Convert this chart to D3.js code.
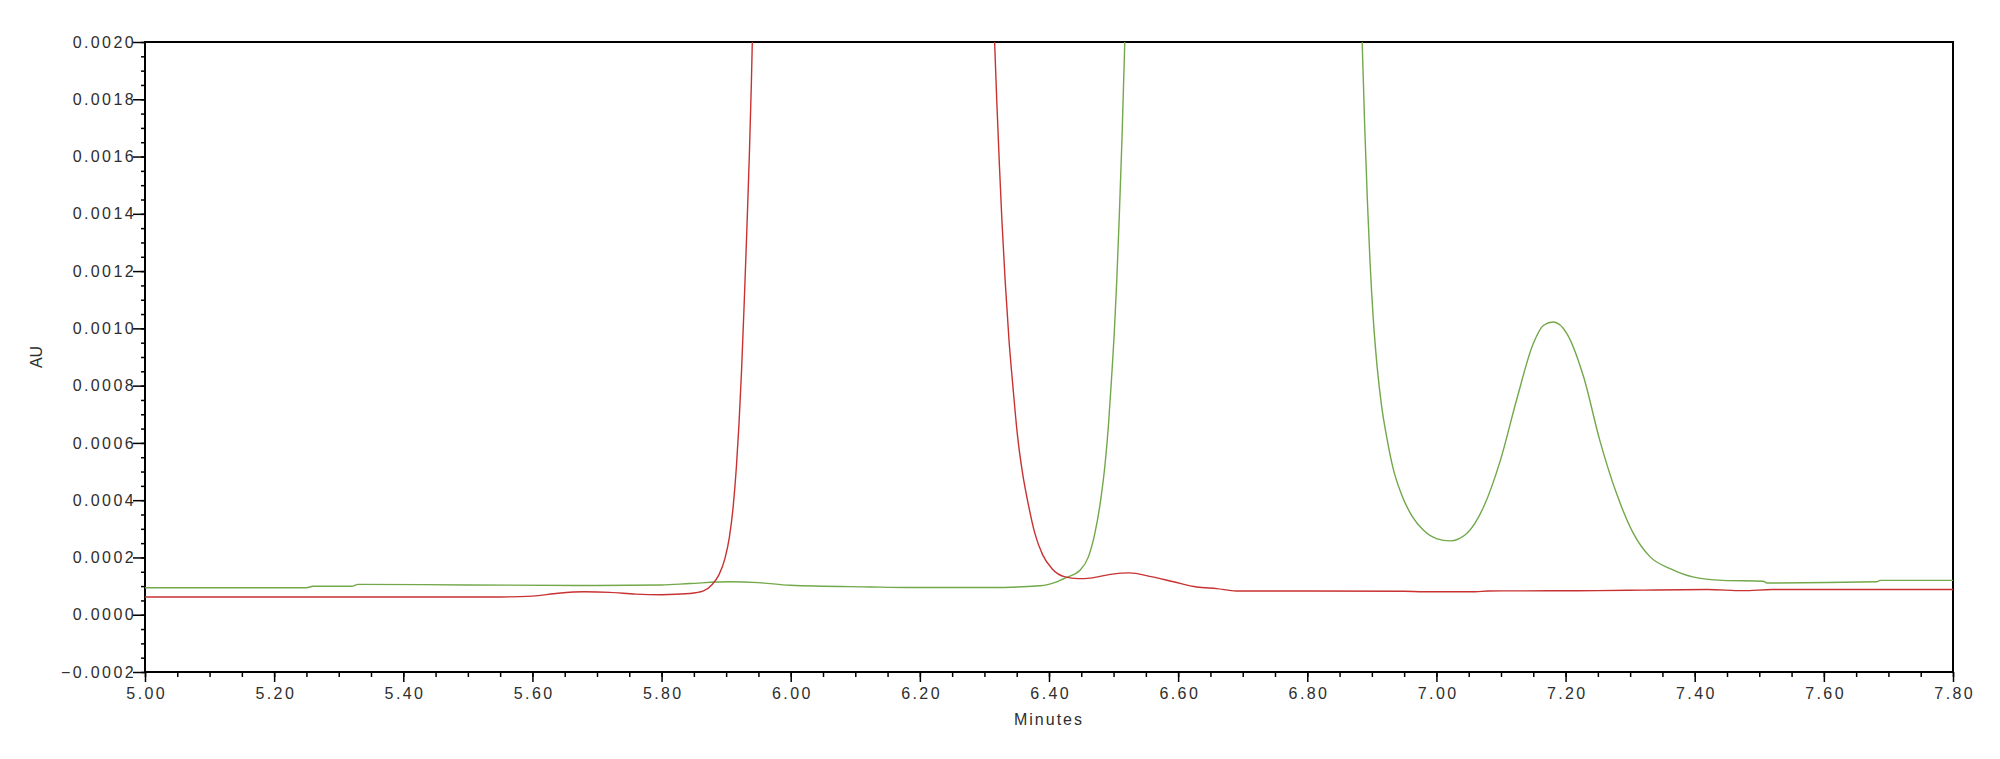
<!DOCTYPE html>
<html>
<head>
<meta charset="utf-8">
<script src="https://cdn.jsdelivr.net/npm/d3@7"></script>
<style>
    body { margin: 0; background: #fff; }
    .tick text { font-family: "Liberation Sans", Arial, sans-serif; }
</style>
</head>
<body>
<div id="chart"></div>
<script>
// red trace (minutes, AU), main peak runs off the top
const redMinutes = [5.00, 5.20, 5.40, 5.55, 5.60, 5.64, 5.68, 5.72, 5.76, 5.80, 5.844, 5.865, 5.878, 5.889, 5.898, 5.905, 5.911, 5.916, 5.920, 5.924, 5.928, 5.932, 5.936, 5.939, 5.942, 5.95, 6.12,
    6.30, 6.315, 6.319, 6.323, 6.327, 6.332, 6.338, 6.344, 6.351, 6.359, 6.368, 6.378, 6.390, 6.405, 6.425, 6.445, 6.464, 6.495, 6.525, 6.556, 6.593, 6.629, 6.660, 6.690,
    6.80, 6.95, 6.98, 7.06, 7.08, 7.25, 7.32, 7.42, 7.475, 7.52, 7.80]
const redAU = [0.000062, 0.000062, 0.000062, 0.000062, 0.000065, 0.000075, 0.000080, 0.000078, 0.000072, 0.000070, 0.000074, 0.000083, 0.000105, 0.000140, 0.000195, 0.000270, 0.000380, 0.000520, 0.000670, 0.000860, 0.001090, 0.001340, 0.001610, 0.001850, 0.00215, 0.0030, 0.0060,
    0.0030, 0.00205, 0.00180, 0.00158, 0.00138, 0.00117, 0.00096, 0.00080, 0.00063, 0.000495, 0.000385, 0.000285, 0.000210, 0.000160, 0.000132, 0.000126, 0.000128, 0.000141, 0.000146, 0.000134, 0.000115, 0.000097, 0.000091, 0.000083,
    0.000083, 0.000082, 0.000080, 0.000080, 0.000083, 0.000084, 0.000086, 0.000088, 0.000084, 0.000088, 0.000088]

// green trace
const greenMinutes = [5.00, 5.25, 5.26, 5.32, 5.33, 5.50, 5.70, 5.80, 5.844, 5.906, 5.95, 5.999, 6.123, 6.180, 6.309, 6.386, 6.412, 6.427, 6.448, 6.461, 6.471, 6.480, 6.487, 6.492, 6.497, 6.501, 6.505, 6.509, 6.513, 6.517, 6.520, 6.53, 6.70,
    6.875, 6.885, 6.889, 6.893, 6.897, 6.902, 6.908, 6.915, 6.923, 6.933, 6.946, 6.962, 6.980, 7.000, 7.021, 7.047, 7.073, 7.099, 7.124, 7.150, 7.166, 7.181, 7.202, 7.228, 7.253, 7.279, 7.305, 7.331, 7.362, 7.397, 7.444, 7.506, 7.512, 7.682, 7.687, 7.80]
const greenAU = [0.000094, 0.000094, 0.0000995, 0.0000995, 0.000106, 0.000104, 0.000102, 0.000104, 0.000109, 0.000115, 0.000112, 0.000103, 0.000097, 0.000095, 0.000095, 0.000101, 0.000115, 0.000130, 0.000155, 0.000202, 0.000284, 0.000400, 0.000530, 0.000660, 0.000830, 0.000980, 0.001170, 0.001400, 0.001660, 0.001970, 0.00225, 0.0032, 0.0060,
    0.0030, 0.00200, 0.00170, 0.00145, 0.00124, 0.00104, 0.00087, 0.00073, 0.00062, 0.00051, 0.00042, 0.000345, 0.000295, 0.000266, 0.000258, 0.000284, 0.000376, 0.000539, 0.000749, 0.000947, 0.001011, 0.001022, 0.000982, 0.000830, 0.000609, 0.000423, 0.000284, 0.000202, 0.000161, 0.000132, 0.000120, 0.000117, 0.000111, 0.000115, 0.000120, 0.000120]

const xTicks = [5.0, 5.2, 5.4, 5.6, 5.8, 6.0, 6.2, 6.4, 6.6, 6.8, 7.0, 7.2, 7.4, 7.6, 7.8]
const yTicks = [-0.0002, 0.0, 0.0002, 0.0004, 0.0006, 0.0008, 0.0010, 0.0012, 0.0014, 0.0016, 0.0018, 0.0020]
const xLabel = "Minutes"
const yLabel = "AU"

const width = 2000;
const height = 759;
const margin = { top: 42, right: 47, bottom: 87, left: 145 };

const redColor = "#c83232";
const greenColor = "#72a84a";
const textColor = "#2e2e2e";

const xScale = d3.scaleLinear().domain([5.0, 7.8]).range([margin.left, width - margin.right]);
const yScale = d3.scaleLinear().domain([-0.0002, 0.0020]).range([height - margin.bottom, margin.top]);

const svg = d3.select("#chart").append("svg")
    .attr("width", width)
    .attr("height", height)

svg.append("clipPath").attr("id", "plot-clip")
    .append("rect")
    .attr("x", margin.left)
    .attr("y", margin.top)
    .attr("width", width - margin.left - margin.right)
    .attr("height", height - margin.top - margin.bottom)

// minor ticks every 0.05 min / 0.00005 AU
const xMinor = d3.range(0, 57).map(i => 5.0 + i * 0.05)
const yMinor = d3.range(0, 45).map(i => -0.0002 + i * 0.00005)

svg.append("g")
    .attr("transform", `translate(0, ${height - margin.bottom})`)
    .call(d3.axisBottom(xScale).tickValues(xMinor).tickFormat("").tickSize(5).tickSizeOuter(0))
    .call(g => g.select(".domain").remove())
    .selectAll("line").attr("stroke", "#000").attr("stroke-width", 1.5)

svg.append("g")
    .attr("transform", `translate(${margin.left}, 0)`)
    .call(d3.axisLeft(yScale).tickValues(yMinor).tickFormat("").tickSize(4).tickSizeOuter(0))
    .call(g => g.select(".domain").remove())
    .selectAll("line").attr("stroke", "#000").attr("stroke-width", 1.5)

const xAxis = svg.append("g")
    .attr("transform", `translate(0, ${height - margin.bottom})`)
    .call(d3.axisBottom(xScale).tickValues(xTicks).tickFormat(d3.format(".2f")).tickSize(10).tickPadding(6).tickSizeOuter(0))
xAxis.select(".domain").remove()
xAxis.selectAll("line").attr("stroke", "#000").attr("stroke-width", 1.5)
xAxis.selectAll("text")
    .attr("fill", textColor)
    .attr("dx", "1.2px")
    .style("font-size", "16px")
    .style("letter-spacing", "2.4px")

const yAxis = svg.append("g")
    .attr("transform", `translate(${margin.left}, 0)`)
    .call(d3.axisLeft(yScale).tickValues(yTicks).tickFormat(d3.format(".4f")).tickSize(12).tickPadding(0).tickSizeOuter(0))
yAxis.select(".domain").remove()
yAxis.selectAll("line").attr("stroke", "#000").attr("stroke-width", 1.5)
yAxis.selectAll("text")
    .attr("fill", textColor)
    .attr("x", -9)
    .style("font-size", "16px")
    .style("letter-spacing", "2.4px")

//frame round the plot area
svg.append("rect")
    .attr("x", margin.left)
    .attr("y", margin.top)
    .attr("width", width - margin.left - margin.right)
    .attr("height", height - margin.top - margin.bottom)
    .attr("fill", "none")
    .attr("stroke", "#000")
    .attr("stroke-width", 2)

const line = d3.line()
    .x(d => xScale(d[0]))
    .y(d => yScale(d[1]))
    .curve(d3.curveMonotoneX)

const traces = [
    { name: "green", color: greenColor, pts: greenMinutes.map((m, i) => [m, greenAU[i]]) },
    { name: "red", color: redColor, pts: redMinutes.map((m, i) => [m, redAU[i]]) }
]

svg.append("g")
    .attr("clip-path", "url(#plot-clip)")
    .selectAll("path")
    .data(traces)
    .join("path")
    .attr("class", d => "trace " + d.name)
    .attr("d", d => line(d.pts))
    .attr("fill", "none")
    .attr("stroke", d => d.color)
    .attr("stroke-width", 1.4)

// axis labels
svg.append("text")
    .attr("x", (margin.left + width - margin.right) / 2)
    .attr("y", 725)
    .attr("text-anchor", "middle")
    .attr("fill", textColor)
    .style("font-family", "Liberation Sans, Arial, sans-serif")
    .style("font-size", "16px")
    .style("letter-spacing", "2px")
    .text(xLabel)

svg.append("text")
    .attr("transform", `translate(42, ${(margin.top + height - margin.bottom) / 2}) rotate(-90)`)
    .attr("text-anchor", "middle")
    .attr("fill", textColor)
    .style("font-family", "Liberation Sans, Arial, sans-serif")
    .style("font-size", "16px")
    .text(yLabel)
</script>
</body>
</html>
